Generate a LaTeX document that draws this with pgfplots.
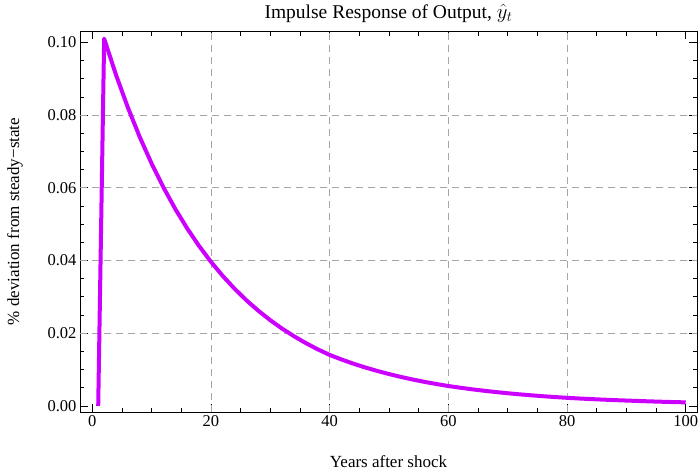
\documentclass[border=0pt]{standalone}
\usepackage{fontspec}
\setmainfont{Liberation Serif}
\usepackage{pgfplots}
\pgfplotsset{compat=1.18}
\definecolor{curve}{RGB}{204,0,255}
\begin{document}
\begin{tikzpicture}
\begin{axis}[
  scale only axis, width=617pt, height=381pt,
  at={(0,0)}, anchor=south west,
  xmin=-2.07, xmax=101.9, ymin=-0.0017, ymax=0.1031,
  xtick={0,20,40,60,80,100},
  ytick={0,0.02,0.04,0.06,0.08,0.1},
  minor x tick num=3, minor y tick num=3,
  major tick length=8pt, minor tick length=4.5pt,
  tick align=inside,
  axis line style={line width=0.7pt, black},
  every tick/.style={black, line width=0.6pt},
  /pgf/number format/assume math mode=true,
  ticklabel style={font=\fontsize{16.5}{19}\selectfont},
  yticklabel style={/pgf/number format/.cd, fixed, fixed zerofill, precision=2},
  xticklabel style={/pgf/number format/.cd, fixed, precision=0},
  extra x ticks={20,40,60,80}, extra x tick labels={},
  extra y ticks={0.02,0.04,0.06,0.08}, extra y tick labels={},
  extra tick style={grid=major, major tick length=0pt},
  grid style={gray!70, line width=0.6pt, dash pattern=on 7pt off 5pt},
  title={Impulse Response of Output, $\hat{y}_t$},
  title style={at={(axis description cs:0.5,1.0315)}, anchor=center, font=\fontsize{19.5}{22}\selectfont},
  xlabel={Years after shock},
  xlabel style={at={(axis description cs:0.5,-0.1312)}, anchor=center, font=\fontsize{17}{20}\selectfont},
  ylabel={\% deviation from steady−state},
  ylabel style={at={(axis description cs:-0.1053,0.5)}, anchor=center, font=\fontsize{17}{20}\selectfont},
]
\addplot[curve, line width=4pt, line join=round] coordinates {
(1,0) (2,0.1010) (4,0.09102) (6,0.08203) (8,0.07393) (10,0.06663)
(12,0.06005) (14,0.05411) (16,0.04877) (18,0.04395) (20,0.03961)
(22,0.03570) (24,0.03217) (26,0.02899) (28,0.02613) (30,0.02355)
(32,0.02122) (34,0.01913) (36,0.01724) (38,0.01553) (40,0.01400)
(42,0.01274) (44,0.01159) (46,0.01055) (48,0.00960) (50,0.00874)
(52,0.00795) (54,0.00723) (56,0.00658) (58,0.00599) (60,0.00545)
(62,0.00498) (64,0.00454) (66,0.00415) (68,0.00379) (70,0.00346)
(72,0.00316) (74,0.00289) (76,0.00264) (78,0.00241) (80,0.00220)
(82,0.00202) (84,0.00186) (86,0.00171) (88,0.00157) (90,0.00145)
(92,0.00133) (94,0.00122) (96,0.00112) (98,0.00103) (100,0.00095)
};
\end{axis}
\pgfresetboundingbox
\path (-80pt,-60pt) rectangle (619pt,412pt);
\end{tikzpicture}
\end{document}
